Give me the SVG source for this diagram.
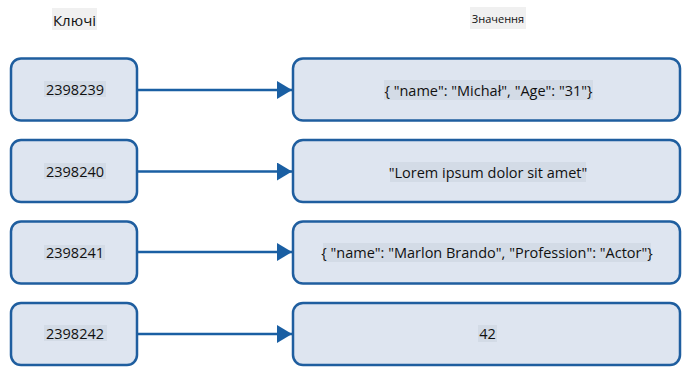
<svg xmlns="http://www.w3.org/2000/svg" width="698" height="382" viewBox="0 0 698 382">
<defs>
<style>
.box{fill:#dee5f0;stroke:#1f5e9f;stroke-width:2.5}
.lbg{fill:#d3dbe6}
.t{font-family:"Open Sans","Noto Sans",sans-serif;font-size:14.5px;fill:#111;text-anchor:middle;dominant-baseline:central}
.edge{stroke:#1a5fa3;stroke-width:2.5;fill:none}
.hbg{fill:#f0f0f0}
</style>
<marker id="ah" viewBox="0 0 15 18" refX="15" refY="9" markerWidth="15" markerHeight="18" markerUnits="userSpaceOnUse" orient="auto">
<path d="M0,0 L15,9 L0,18 Z" fill="#1a5fa3"/>
</marker>
</defs>
<g id="header-keys">
<rect class="hbg" x="52" y="8" width="45" height="22"/>
<text class="t" x="74.5" y="19.5" style="font-size:15px">Ключі</text>
</g>
<g id="header-values">
<rect class="hbg" x="470" y="7" width="56" height="22"/>
<text class="t" x="498" y="18" style="font-size:11px">Значення</text>
</g>
<g id="connectors">
<line class="edge" x1="137" y1="90" x2="292" y2="90" marker-end="url(#ah)"/>
<line class="edge" x1="137" y1="171.5" x2="292" y2="171.5" marker-end="url(#ah)"/>
<line class="edge" x1="137" y1="252" x2="292" y2="252" marker-end="url(#ah)"/>
<line class="edge" x1="137" y1="334" x2="292" y2="334" marker-end="url(#ah)"/>
</g>
<g id="key1">
<rect class="box" x="11" y="58.5" width="126" height="62" rx="10"/>
<rect class="lbg" x="44" y="81" width="62" height="16"/>
<text class="t" x="75" y="89.5">2398239</text>
</g>
<g id="key2">
<rect class="box" x="11" y="140" width="126" height="62" rx="10"/>
<rect class="lbg" x="44" y="163" width="62" height="16"/>
<text class="t" x="75" y="171.5">2398240</text>
</g>
<g id="key3">
<rect class="box" x="11" y="221.5" width="126" height="62" rx="10"/>
<rect class="lbg" x="44" y="245" width="61" height="15"/>
<text class="t" x="75" y="252.5">2398241</text>
</g>
<g id="key4">
<rect class="box" x="11" y="303" width="126" height="62" rx="10"/>
<rect class="lbg" x="44" y="325" width="63" height="16"/>
<text class="t" x="75" y="333.5">2398242</text>
</g>
<g id="val1">
<rect class="box" x="293" y="58.5" width="387" height="62" rx="10"/>
<rect class="lbg" x="384" y="80" width="209" height="20"/>
<text class="t" x="488.5" y="90">{ "name": "Michał", "Age": "31"}</text>
</g>
<g id="val2">
<rect class="box" x="293" y="140" width="387" height="62" rx="10"/>
<rect class="lbg" x="390" y="162" width="196" height="20"/>
<text class="t" x="488" y="172">"Lorem ipsum dolor sit amet"</text>
</g>
<g id="val3">
<rect class="box" x="293" y="221.5" width="387" height="62" rx="10"/>
<rect class="lbg" x="323" y="243" width="328" height="19"/>
<text class="t" x="487" y="252.5">{ "name": "Marlon Brando", "Profession": "Actor"}</text>
</g>
<g id="val4">
<rect class="box" x="293" y="303" width="387" height="62" rx="10"/>
<rect class="lbg" x="478" y="325" width="19" height="17"/>
<text class="t" x="487.5" y="333.5">42</text>
</g>
</svg>
